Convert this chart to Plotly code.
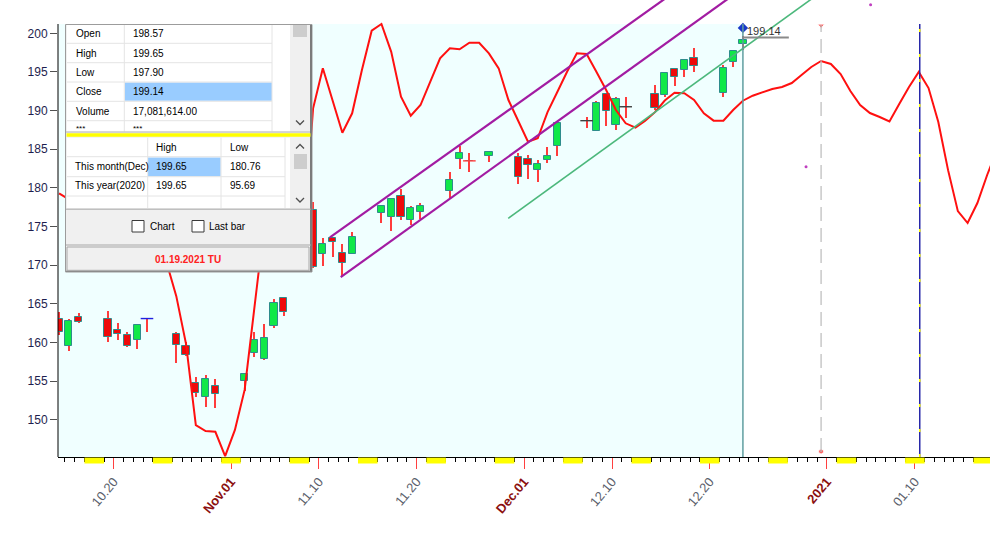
import plotly.graph_objects as go
import pandas as pd

# ---------------- data ----------------
dates = ["2020-10-14", "2020-10-15", "2020-10-16", "2020-10-19", "2020-10-20", "2020-10-21",
         "2020-10-22", "2020-10-23", "2020-10-26", "2020-10-27", "2020-10-28", "2020-10-29",
         "2020-10-30", "2020-11-02", "2020-11-03", "2020-11-04", "2020-11-05", "2020-11-06",
         "2020-11-09", "2020-11-10", "2020-11-11", "2020-11-12", "2020-11-13", "2020-11-16",
         "2020-11-17", "2020-11-18", "2020-11-19", "2020-11-20", "2020-11-23", "2020-11-24",
         "2020-11-25", "2020-11-27", "2020-11-30", "2020-12-01", "2020-12-02", "2020-12-03",
         "2020-12-04", "2020-12-07", "2020-12-08", "2020-12-09", "2020-12-10", "2020-12-11",
         "2020-12-14", "2020-12-15", "2020-12-16", "2020-12-17", "2020-12-18", "2020-12-21",
         "2020-12-22", "2020-12-23"]
opens = [163.1, 159.5, 163.3, 163.0, 161.6, 161.0, 160.3, 163.1, 161.1, 159.6, 154.7, 152.9,
         154.4, 155.0, 158.6, 157.9, 162.2, 165.8, 177.1, 171.5, 173.5, 171.6, 171.5, 176.8,
         176.3, 179.0, 175.9, 176.9, 179.6, 183.7, 183.5, 184.1, 184.0, 183.8, 182.3, 183.6,
         185.4, 188.7, 187.4, 192.2, 188.1, 190.5, 192.15, 192.0, 195.4, 195.2, 196.8, 192.3,
         196.3, 198.57]
highs = [163.9, 163.1, 163.8, 164.1, 162.5, 161.4, 162.3, 163.15, 161.4, 160.1, 155.5, 155.8,
         155.3, 156.0, 161.3, 162.4, 165.6, 165.8, 178.2, 173.5, 173.7, 172.7, 174.3, 177.8,
         178.7, 179.9, 177.7, 178.0, 182.1, 185.4, 184.5, 184.7, 184.5, 184.3, 183.6, 185.3,
         188.4, 189.2, 191.2, 192.3, 191.8, 191.8, 193.3, 195.0, 195.4, 196.6, 198.1, 195.9,
         197.9, 199.65]
lows = [161.0, 158.9, 162.5, 160.1, 160.3, 159.4, 159.2, 161.3, 157.4, 158.3, 153.0, 151.7,
        151.5, 153.75, 158.1, 157.8, 161.9, 163.4, 169.6, 169.9, 171.0, 168.5, 171.4, 175.5,
        174.4, 175.9, 175.2, 176.0, 178.6, 182.5, 182.0, 183.3, 180.5, 181.2, 180.8, 183.2,
        184.1, 187.7, 187.3, 188.0, 187.5, 189.0, 190.1, 191.7, 193.2, 194.3, 195.0, 191.7,
        195.6, 197.90]
closes = [161.3, 162.8, 162.6, 160.7, 161.1, 159.6, 162.3, 163.1, 159.7, 158.4, 153.5, 155.3,
          153.3, 155.9, 160.3, 160.6, 165.1, 163.9, 169.8, 172.8, 173.0, 170.3, 173.6, 177.7,
          178.6, 176.2, 177.4, 177.6, 181.0, 184.5, 183.5, 184.6, 181.4, 183.0, 183.1, 184.1,
          188.35, 188.7, 190.95, 189.9, 191.5, 190.5, 190.3, 194.9, 194.3, 196.55, 195.8, 195.5,
          197.75, 199.14]

# cycle / projection line, one value per calendar day starting at osc_start
osc_start = "2020-10-14"
osc_values = [179.3, 178.5, 177.8, 177.0, 176.3, 175.6, 175.0, 174.4, 173.8, 173.0, 172.0, 170.4,
              166.0, 159.8, 149.3, 148.55, 148.45, 145.3,                                   # Oct 14-31
              148.7, 153.9, 164.9, 175.2, 179.1, 177.8, 174.6, 172.9, 190.26, 195.47, 191.3, 187.14,
              189.65, 195.25, 200.34, 201.2, 197.6, 191.8, 189.34, 190.72, 193.74, 196.77, 198.06,
              197.93, 198.78, 198.78, 197.41, 195.47, 191.37, 188.65,                        # Nov
              185.98, 186.42, 189.8, 192.4, 195.03, 197.41, 197.32, 195.03, 192.67, 190.08, 188.36,
              187.79, 188.7, 189.8, 191.3, 192.3, 192.24, 191.37, 189.65, 188.7, 188.7, 190.08,
              191.28, 191.93, 192.4, 192.8, 193.05, 193.57, 194.6, 195.64, 196.42,            # Dec
              196.03, 194.73, 192.54, 190.72, 189.69, 189.17, 188.59, 190.85, 193.05, 195.0,
              192.92, 188.52, 182.3, 177.0, 175.46, 178.05, 181.67, 184.9]                   # Jan 1-18

upper_channel_x = ["2020-11-11 03:00", "2020-12-18 00:00"]
upper_channel_y = [173.6, 206.8]
lower_channel_x = ["2020-11-12 05:30", "2020-12-24 00:00"]
lower_channel_y = [168.45, 206.4]
support_x = ["2020-11-29 09:00", "2021-01-02 00:00"]
support_y = [176.05, 206.8]

stray_x = ["2021-01-05 11:15", "2020-12-29 20:40"]
stray_y = [203.7, 182.75]

tick_dates = ["2020-10-20", "2020-11-01", "2020-11-10", "2020-11-20", "2020-12-01",
              "2020-12-10", "2020-12-20", "2021-01-01", "2021-01-10"]
tick_labels = ["10.20", "Nov.01", "11.10", "11.20", "Dec.01", "12.10", "12.20", "2021", "01.10"]
tick_is_period = [False, True, False, False, True, False, False, True, False]
y_ticks = [150, 155, 160, 165, 170, 175, 180, 185, 190, 195, 200]

cycle_line_date = "2020-12-31"
blue_line_date = "2021-01-10"

info_rows = [("Open", "198.57"), ("High", "199.65"), ("Low", "197.90"),
             ("Close", "199.14"), ("Volume", "17,081,614.00"), ("***", "***")]
range_header = ["High", "Low"]
range_rows = [("This month(Dec)", "199.65", "180.76"), ("This year(2020)", "199.65", "95.69")]
status_text = "01.19.2021 TU"

# ---------------- geometry / style ----------------
W, H = 998, 539
ML, MR, MT, MB = 58, 8, 0, 82
PW, PH = W - ML - MR, H - MT - MB
DAY = 86400000
XR = ["2020-10-14 07:00", "2021-01-17 16:35"]
YR = [145.19, 204.31]
OFF = pd.Timedelta(hours=9.6)

def fx(p):
    return (p - ML) / PW

def fy(p):
    return (PH - (p - MT)) / PH

cx = pd.to_datetime(dates) + OFF
ox = pd.date_range(osc_start, periods=len(osc_values), freq="D") + OFF
last_x = cx[-1]

GREEN, RED, EDGE, WICK = "#10E848", "#EE0A0A", "#2E8C8C", "#FF3C3C"

fig = go.Figure()

# wicks
fig.add_trace(go.Bar(x=cx, y=[h - l for h, l in zip(highs, lows)], base=lows,
                     width=0.11 * DAY, marker=dict(color=WICK, line=dict(width=0)),
                     hoverinfo="skip"))
# bodies
fig.add_trace(go.Bar(x=cx, y=[abs(c - o) for o, c in zip(opens, closes)],
                     base=[min(o, c) for o, c in zip(opens, closes)],
                     width=0.74 * DAY,
                     marker=dict(color=[GREEN if c > o else RED for o, c in zip(opens, closes)],
                                 line=dict(color=EDGE, width=1)),
                     hoverinfo="skip"))
# doji marks
dj = [i for i, (o, c) in enumerate(zip(opens, closes)) if o == c]
dj_col = {"2020-10-23": "#2020E0", "2020-11-25": WICK}
fig.add_trace(go.Scatter(x=[cx[i] for i in dj], y=[opens[i] for i in dj], mode="markers",
                         marker=dict(symbol="line-ew", size=9,
                                     line=dict(width=1.4, color=[dj_col.get(dates[i], "#404040") for i in dj])),
                         hoverinfo="skip"))
# cycle line
fig.add_trace(go.Scatter(x=ox, y=osc_values, mode="lines",
                         line=dict(color="#FF1010", width=2), hoverinfo="skip"))
# trend lines
fig.add_trace(go.Scatter(x=upper_channel_x, y=upper_channel_y, mode="lines",
                         line=dict(color="#A21CA2", width=2.2), hoverinfo="skip"))
fig.add_trace(go.Scatter(x=lower_channel_x, y=lower_channel_y, mode="lines",
                         line=dict(color="#A21CA2", width=2.2), hoverinfo="skip"))
fig.add_trace(go.Scatter(x=support_x, y=support_y, mode="lines",
                         line=dict(color="#4CB87C", width=1.6), hoverinfo="skip"))
# markers
cyc_x = pd.Timestamp(cycle_line_date) + OFF
fig.add_trace(go.Scatter(x=[cyc_x, cyc_x], y=[201.0, 145.9], mode="markers", cliponaxis=False,
                         marker=dict(symbol=["triangle-down", "circle"], size=[6, 5], color="#FF2020"),
                         hoverinfo="skip"))
fig.add_trace(go.Scatter(x=stray_x, y=stray_y, mode="markers",
                         marker=dict(size=3, color="#C040C0"), hoverinfo="skip"))
fig.add_trace(go.Scatter(x=[last_x], y=[200.7], mode="markers", cliponaxis=False,
                         marker=dict(symbol="diamond", size=8, color="#1838C8"), hoverinfo="skip"))

shapes = []
# history background
shapes.append(dict(type="rect", xref="x", yref="paper", x0=XR[0], x1=last_x, y0=0, y1=fy(24),
                   fillcolor="#F0FFFF", line=dict(width=0), layer="below"))
shapes.append(dict(type="line", xref="x", yref="paper", x0=last_x, x1=last_x, y0=0, y1=fy(24),
                   line=dict(color="#5F9EA0", width=1.5)))
shapes.append(dict(type="line", xref="x", yref="paper", x0=cyc_x, x1=cyc_x, y0=fy(452), y1=fy(25),
                   line=dict(color="#BBBBBB", width=1.2, dash="14px,7px")))
blue_x = pd.Timestamp(blue_line_date) + pd.Timedelta(hours=12)
shapes.append(dict(type="line", xref="x", yref="paper", x0=blue_x, x1=blue_x, y0=0, y1=fy(24),
                   line=dict(color="#2828A8", width=1.5)))
shapes.append(dict(type="line", xref="x", yref="paper", x0=blue_x, x1=blue_x, y0=0, y1=fy(24),
                   line=dict(color="#FFFF00", width=1.5, dash="3px,22px")))
# last price line
shapes.append(dict(type="line", xref="x", yref="y", x0=last_x, x1=last_x + pd.Timedelta(days=4.7),
                   y0=closes[-1] + 0.32, y1=closes[-1] + 0.32, line=dict(color="#8A8A8A", width=2)))
# y axis line
shapes.append(dict(type="line", xref="paper", yref="paper", x0=0, x1=0, y0=0, y1=fy(24),
                   line=dict(color="#000000", width=1)))
# weekend marks under the axis
for d in pd.date_range("2020-10-10", "2021-01-20", freq="D"):
    if d.weekday() == 5:
        shapes.append(dict(type="rect", xref="x", yref="paper", x0=d, x1=d + pd.Timedelta(days=2),
                           y0=fy(463.5), y1=fy(457.6), fillcolor="#FFFF00", line=dict(width=0)))

# ---------------- info panel ----------------
def rect(x0, y0, x1, y1, fill, line=None, lw=1):
    shapes.append(dict(type="rect", xref="paper", yref="paper", x0=fx(x0), x1=fx(x1),
                       y0=fy(y1), y1=fy(y0), fillcolor=fill, layer="above",
                       line=dict(color=line or fill, width=lw if line else 0)))

def seg(x0, y0, x1, y1, color, w=1):
    shapes.append(dict(type="line", xref="paper", yref="paper", x0=fx(x0), x1=fx(x1),
                       y0=fy(y0), y1=fy(y1), layer="above", line=dict(color=color, width=w)))

def chevron(cxp, cyp, up, color="#505050"):
    s = -1 if up else 1
    pts = [(cxp - 4, cyp - 2 * s), (cxp, cyp + 2 * s), (cxp + 4, cyp - 2 * s)]
    path = "M" + " L".join(f"{fx(a):.5f},{fy(b):.5f}" for a, b in pts)
    shapes.append(dict(type="path", xref="paper", yref="paper", path=path, layer="above",
                       line=dict(color=color, width=1.3)))

rect(65.5, 24.5, 312, 272, "#F0F0F0", "#9C9C9C", 1)
seg(311, 25, 311, 272, "#7C7C7C", 2)
seg(66, 271.3, 312, 271.3, "#8C8C8C", 1.5)
# table 1
rect(67, 25, 290, 131.5, "#FFFFFF")
rect(125, 82.6, 272, 100.8, "#99CCFF")
for yy in [43.3, 62.7, 82, 101.3, 120.7]:
    seg(67, yy, 272, yy, "#E4E4E4")
for xx in [124.3, 272]:
    seg(xx, 25, xx, 131.5, "#E4E4E4")
rect(290, 25, 309, 131.5, "#F0F0F0")
rect(293, 25, 307, 37, "#CDCDCD")
chevron(300, 122.5, False)
seg(66, 132, 310, 132, "#B4B4B4")
rect(66.5, 133.3, 310.5, 136.7, "#FFFF00")
# table 2
rect(67, 137.7, 290, 208, "#FFFFFF")
rect(148, 157.5, 220.7, 176.2, "#99CCFF")
for yy in [156.7, 176.7, 196]:
    seg(67, yy, 285, yy, "#E4E4E4")
for xx in [147.7, 221, 285]:
    seg(xx, 137.7, xx, 208, "#E4E4E4")
rect(290, 137.7, 309, 208, "#F0F0F0")
rect(294, 154, 307, 169, "#CDCDCD")
chevron(300, 146.5, True)
chevron(300, 200, False)
seg(66, 209.2, 311, 209.2, "#A8A8A8")
rect(132, 220.5, 144, 232, "#FFFFFF", "#3A3A3A", 1)
rect(192, 220.5, 204, 232, "#FFFFFF", "#3A3A3A", 1)
seg(66, 245, 311, 245, "#A8A8A8")
rect(67, 247, 309, 270.3, "#F0F0F0", "#A8A8A8", 1)

ann = []
PF = "Liberation Sans, Arial, sans-serif"

def txt(x, y, s, size=10, color="#000000", anchor="left", bold=False):
    ann.append(dict(xref="paper", yref="paper", x=fx(x), y=fy(y), text=f"<b>{s}</b>" if bold else s,
                    showarrow=False, xanchor=anchor, yanchor="middle",
                    font=dict(family=PF, size=size, color=color)))

row_y = [34, 53.3, 72.3, 91.7, 111, 128]
for (lab, val), yy in zip(info_rows, row_y):
    sz = 8 if lab == "***" else 10
    txt(74, yy, lab, sz)
    txt(131, yy, val, sz)
txt(154, 147.7, range_header[0])
txt(227.7, 147.7, range_header[1])
for (lab, v1, v2), yy in zip(range_rows, [166.7, 186]):
    txt(73, yy, lab)
    txt(154, yy, v1)
    txt(227.7, yy, v2)
txt(148, 226.7, "Chart")
txt(207, 226.7, "Last bar")
txt(188, 259, status_text, 10, "#FF2020", "center", True)

# last price label
ann.append(dict(xref="x", yref="y", x=last_x, y=200.35, text=f"{closes[-1]:.2f}", showarrow=False,
                xanchor="left", yanchor="middle", xshift=2,
                font=dict(family=PF, size=11, color="#333333")))

ticktext = [f"<span style='color:#8B1010'><b>{t}</b></span>" if p else t
            for t, p in zip(tick_labels, tick_is_period)]

fig.update_layout(
    width=W, height=H, autosize=False,
    margin=dict(l=ML, r=MR, t=MT, b=MB, pad=0),
    paper_bgcolor="#FFFFFF", plot_bgcolor="#FFFFFF",
    barmode="overlay", bargap=0, showlegend=False, hovermode=False,
    shapes=shapes, annotations=ann,
    xaxis=dict(type="date", range=XR, showgrid=False, zeroline=False, automargin=False,
               showline=True, linecolor="#000000", linewidth=1,
               tickmode="array", tickvals=tick_dates, ticktext=ticktext,
               ticks="outside", ticklen=11, tickcolor="#FF4040", tickwidth=1,
               tickangle=-50, tickfont=dict(family=PF, size=13, color="#5C5F6C"),
               minor=dict(ticks="outside", ticklen=4, tickcolor="#000000", tickwidth=1,
                          tickmode="linear", dtick=DAY, tick0="2020-10-01", showgrid=False)),
    yaxis=dict(range=YR, showgrid=False, zeroline=False, automargin=False, showline=False,
               tickmode="array", tickvals=y_ticks, ticks="outside", ticklen=7,
               tickcolor="#505050", tickfont=dict(family=PF, size=12, color="#1E1E4E")),
)

fig.write_html("out.html", config={"displayModeBar": False},
               post_script="document.body.style.margin='0px';document.body.style.overflow='hidden';")
